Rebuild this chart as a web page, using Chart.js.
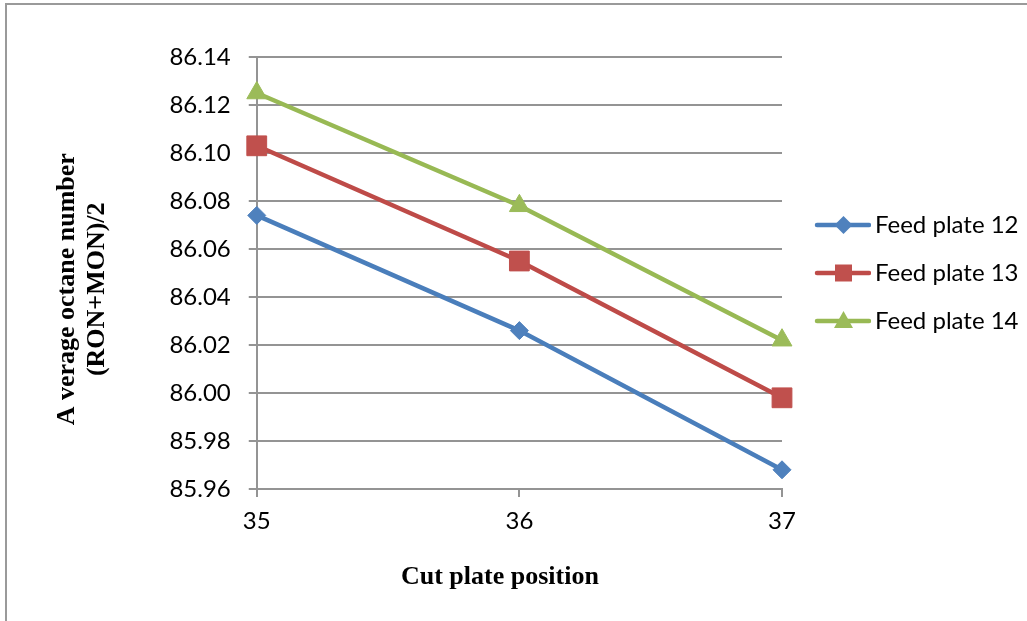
<!DOCTYPE html>
<html>
<head>
<meta charset="utf-8">
<script src="https://cdn.jsdelivr.net/npm/chart.js@4.4.1/dist/chart.umd.min.js"></script>
<style>
  html, body { margin: 0; padding: 0; background: #ffffff; overflow: hidden; }
  #wrap { position: relative; width: 1027px; height: 621px; }
  #frame { position: absolute; left: 5px; top: 3px; width: 1200px; height: 800px; border: 2px solid #9a9a9a; box-sizing: border-box; }
  canvas { position: absolute; left: 0; top: 0; }
</style>
</head>
<body>
<div id="wrap">
  <div id="frame"></div>
  <canvas id="c" width="1027" height="621"></canvas>
</div>
<script>
const categories = ['35', '36', '37'];
const feedPlate12 = [86.074, 86.026, 85.968];
const feedPlate13 = [86.103, 86.055, 85.998];
const feedPlate14 = [86.125, 86.078, 86.022];
const yTickValues = [85.96, 85.98, 86.00, 86.02, 86.04, 86.06, 86.08, 86.10, 86.12, 86.14];
const seriesNames = ['Feed plate 12', 'Feed plate 13', 'Feed plate 14'];
const xTitle = 'Cut plate position';
const yTitle = ['A verage octane number', '(RON+MON)/2'];

const lineColors = ['#4A7EBB', '#BE4B48', '#98B954'];
const markerColors = ['#4F81BD', '#C0504D', '#9BBB59'];
const markerStyles = ['rectRot', 'rect', 'triangle'];
const markerRadii = [9, 14, 11.5];

function legendSwatch(i) {
  const cv = document.createElement('canvas');
  cv.width = 73; cv.height = 24;
  const ctx = cv.getContext('2d');
  ctx.strokeStyle = lineColors[i];
  ctx.lineWidth = 4.5;
  ctx.lineCap = 'round';
  ctx.beginPath(); ctx.moveTo(19, 12); ctx.lineTo(71, 12); ctx.stroke();
  ctx.fillStyle = markerColors[i];
  const cx = 45.5, cy = 12;
  ctx.beginPath();
  if (i === 0) {
    ctx.moveTo(cx, cy - 9); ctx.lineTo(cx + 9, cy); ctx.lineTo(cx, cy + 9); ctx.lineTo(cx - 9, cy);
  } else if (i === 1) {
    ctx.rect(cx - 8.5, cy - 8.5, 17, 17);
  } else {
    ctx.moveTo(cx, cy - 10); ctx.lineTo(cx + 9.5, cy + 7); ctx.lineTo(cx - 9.5, cy + 7);
  }
  ctx.closePath(); ctx.fill();
  return cv;
}
const swatches = [0, 1, 2].map(legendSwatch);

const seriesData = [feedPlate12, feedPlate13, feedPlate14];
const datasets = seriesData.map((d, i) => ({
  label: seriesNames[i],
  data: d,
  borderColor: lineColors[i],
  backgroundColor: markerColors[i],
  borderWidth: 4.5,
  pointStyle: markerStyles[i],
  pointRadius: markerRadii[i],
  pointHoverRadius: markerRadii[i],
  pointBackgroundColor: markerColors[i],
  pointBorderColor: markerColors[i],
  pointBorderWidth: 1,
  tension: 0
}));

const gridGray = '#949494';
const pad = (s, n) => s + ' '.repeat(n);

new Chart(document.getElementById('c'), {
  type: 'line',
  data: { labels: categories, datasets: datasets },
  options: {
    responsive: false,
    animation: false,
    events: [],
    layout: { padding: { left: 0, right: 0, top: 57, bottom: 28 } },
    plugins: {
      tooltip: { enabled: false },
      legend: {
        position: 'right',
        fullSize: false,
        align: 'center',
        maxWidth: 245,
        labels: {
          usePointStyle: true,
          pointStyleWidth: 57,
          boxHeight: 24,
          padding: 24,
          color: '#000000',
          font: { family: 'Lato', size: 24 },
          generateLabels: (chart) => chart.data.datasets.map((ds, i) => ({
            text: ds.label,
            pointStyle: swatches[i],
            fillStyle: markerColors[i],
            strokeStyle: markerColors[i],
            lineWidth: 0,
            hidden: false,
            datasetIndex: i,
            fontColor: '#000000'
          }))
        }
      }
    },
    scales: {
      x: {
        type: 'category',
        offset: false,
        grid: { display: true, drawOnChartArea: false, drawTicks: true, tickLength: 8, color: gridGray, lineWidth: 2 },
        border: { display: true, color: gridGray, width: 2 },
        ticks: { color: '#000000', font: { family: 'Lato', size: 24 }, padding: 10, maxRotation: 0 },
        title: {
          display: true,
          text: pad(xTitle, 6),
          color: '#000000',
          font: { family: 'Liberation Serif', size: 26, weight: 'bold', lineHeight: 1.2 },
          padding: { top: 16, bottom: 0 }
        }
      },
      y: {
        type: 'linear',
        min: 85.96,
        max: 86.14,
        afterBuildTicks: (scale) => { scale.ticks = yTickValues.map(v => ({ value: v })); },
        grid: { display: true, drawOnChartArea: true, drawTicks: true, tickLength: 8, color: gridGray, lineWidth: 2 },
        border: { display: true, color: gridGray, width: 2 },
        ticks: { color: '#000000', font: { family: 'Lato', size: 24 }, padding: 18, callback: (v) => Number(v).toFixed(2) },
        title: {
          display: true,
          text: yTitle.map(t => pad(t, 5)),
          color: '#000000',
          font: { family: 'Liberation Serif', size: 26, weight: 'bold', lineHeight: 1.154 },
          padding: { top: 52, bottom: 57 }
        }
      }
    }
  }
});
</script>
</body>
</html>
